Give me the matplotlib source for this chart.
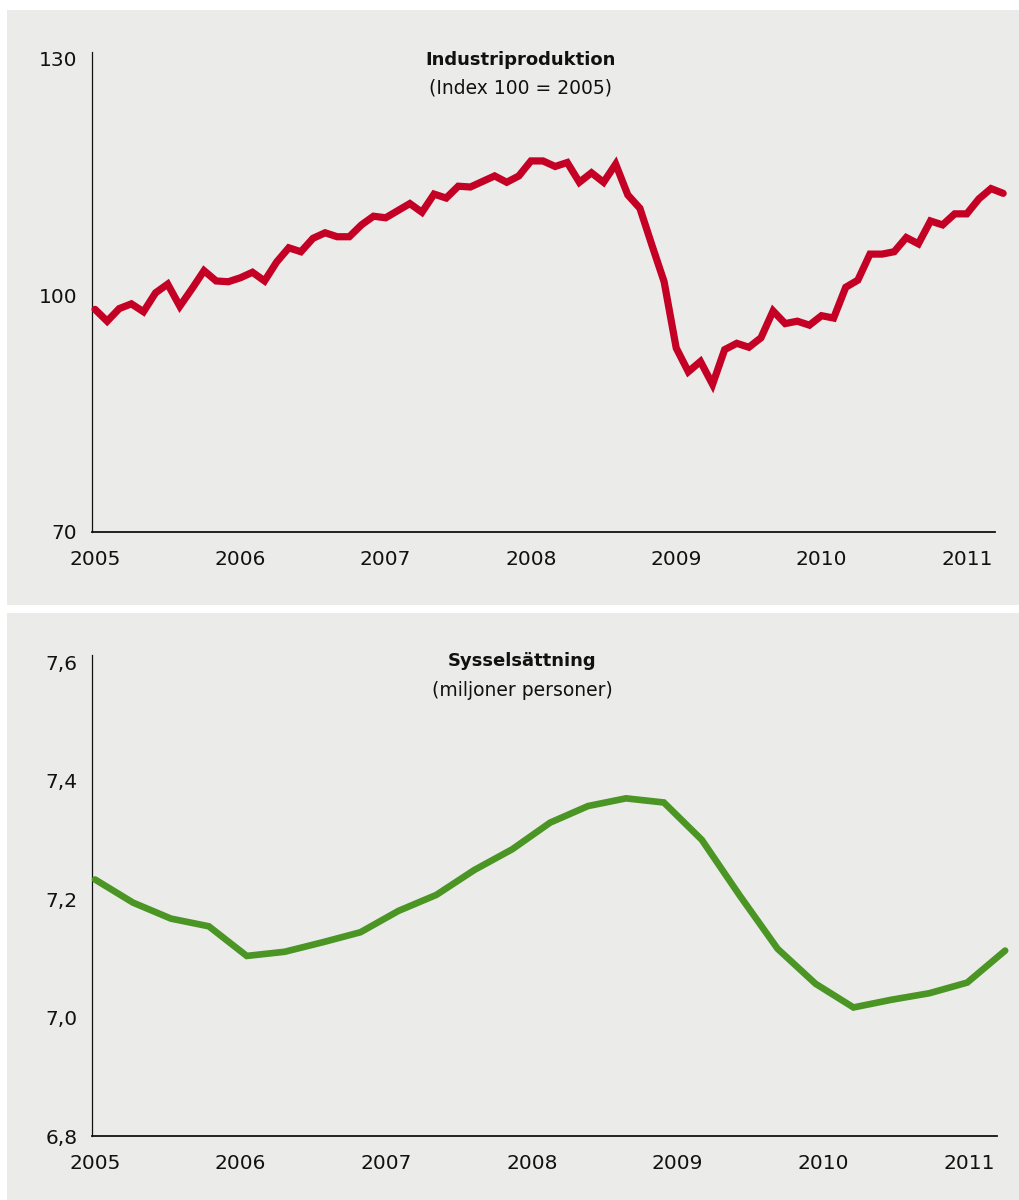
import matplotlib
matplotlib.use("Agg")
import matplotlib.pyplot as plt
import numpy as np
from matplotlib.patches import Rectangle

# ---------------- data ----------------
# Industriproduktion, monthly Jan 2005 - Apr 2011 (Index 100 = 2005)
industri = [98.2, 96.7, 98.3, 98.9, 97.9, 100.3, 101.4, 98.6, 100.8, 103.1, 101.8, 101.7,
            102.2, 102.9, 101.8, 104.2, 106.0, 105.5, 107.2, 107.9, 107.4, 107.4, 108.9, 110.0,
            109.8, 110.7, 111.6, 110.5, 112.8, 112.3, 113.8, 113.7, 114.4, 115.1, 114.3, 115.1,
            117.0, 117.0, 116.3, 116.8, 114.3, 115.5, 114.3, 116.6, 112.7, 111.0, 106.3, 101.7,
            93.3, 90.3, 91.6, 88.7, 93.1, 93.9, 93.4, 94.6, 98.0, 96.4, 96.7, 96.2,
            97.4, 97.1, 101.0, 101.9, 105.2, 105.2, 105.5, 107.3, 106.5, 109.4, 108.9, 110.3,
            110.3, 112.2, 113.5, 112.9]
start_year = 2005

# Sysselsättning, quarterly 2005Q1 - 2011Q1 (miljoner personer)
syssel = [7.233, 7.194, 7.167, 7.154, 7.104, 7.111, 7.127, 7.144, 7.180, 7.207,
          7.249, 7.284, 7.329, 7.357, 7.370, 7.363, 7.300, 7.206, 7.116, 7.057,
          7.017, 7.030, 7.041, 7.059, 7.113]

year_ticks = [2005, 2006, 2007, 2008, 2009, 2010, 2011]
year_labels = ["2005", "2006", "2007", "2008", "2009", "2010", "2011"]
top_yticks = [70, 100, 130]
top_ylabels = ["70", "100", "130"]
bot_yticks = [6.8, 7.0, 7.2, 7.4, 7.6]
bot_ylabels = ["6,8", "7,0", "7,2", "7,4", "7,6"]

title1 = "Industriproduktion"
sub1 = "(Index 100 = 2005)"
title2 = "Sysselsättning"
sub2 = "(miljoner personer)"

# ---------------- style ----------------
BG = "#ebecea"
RED = "#c40024"
GREEN = "#4a9524"
plt.rcParams['font.family'] = ['DejaVu Sans']

W, H = 1020, 1200
fig = plt.figure(figsize=(W / 100, H / 100), dpi=100, facecolor="white")

def fx(px):
    return px / W

def fy(py):
    return 1 - py / H

# panel backgrounds
fig.patches.append(Rectangle((fx(7), fy(605)), fx(1020) - fx(7), (605 - 10) / H,
                             transform=fig.transFigure, facecolor=BG, edgecolor="none", zorder=-10))
fig.patches.append(Rectangle((fx(7), 0), fx(1020) - fx(7), (1200 - 613) / H,
                             transform=fig.transFigure, facecolor=BG, edgecolor="none", zorder=-10))

x_month = start_year + np.arange(len(industri)) / 12.0
x_quarter = np.linspace(x_month[0], x_month[-1], len(syssel))

xlim = (2004.979, 2011.194)

def style_axes(ax):
    ax.set_facecolor("none")
    ax.set_zorder(1)
    for s in ["top", "right"]:
        ax.spines[s].set_visible(False)
    ax.spines["left"].set_linewidth(0.9)
    ax.spines["bottom"].set_linewidth(1.3)
    ax.spines["left"].set_color("#111111")
    ax.spines["bottom"].set_color("#111111")
    ax.tick_params(axis="both", length=0, labelsize=14.5, colors="#111111")
    ax.tick_params(axis="y", pad=10.5)
    ax.tick_params(axis="x", pad=13)
    ax.set_xlim(*xlim)
    ax.set_xticks(year_ticks)
    ax.set_xticklabels(year_labels)

# top chart
ax1 = fig.add_axes([fx(92), fy(532), fx(995) - fx(92), (532 - 52) / H])
style_axes(ax1)
ax1.plot(x_month, industri, color=RED, lw=5.2, solid_capstyle="round",
         solid_joinstyle="miter", clip_on=False, zorder=3)
ax1.set_ylim(70, 130.8)
ax1.set_yticks(top_yticks)
ax1.set_yticklabels(top_ylabels)

fig.text(fx(521), fy(60), title1, ha="center", va="center", fontsize=13, fontweight="bold", color="#111111")
fig.text(fx(521), fy(88), sub1, ha="center", va="center", fontsize=13.5, color="#111111")

# bottom chart
ax2 = fig.add_axes([fx(92), fy(1136), fx(997) - fx(92), (1136 - 655) / H])
style_axes(ax2)
ax2.plot(x_quarter, syssel, color=GREEN, lw=4.8, solid_capstyle="round",
         solid_joinstyle="miter", clip_on=False, zorder=3)
ax2.set_ylim(6.8, 7.612)
ax2.set_yticks(bot_yticks)
ax2.set_yticklabels(bot_ylabels)

fig.text(fx(522), fy(661), title2, ha="center", va="center", fontsize=13, fontweight="bold", color="#111111")
fig.text(fx(522), fy(690), sub2, ha="center", va="center", fontsize=13.5, color="#111111")

fig.savefig("out.png", dpi=100, facecolor="white")
